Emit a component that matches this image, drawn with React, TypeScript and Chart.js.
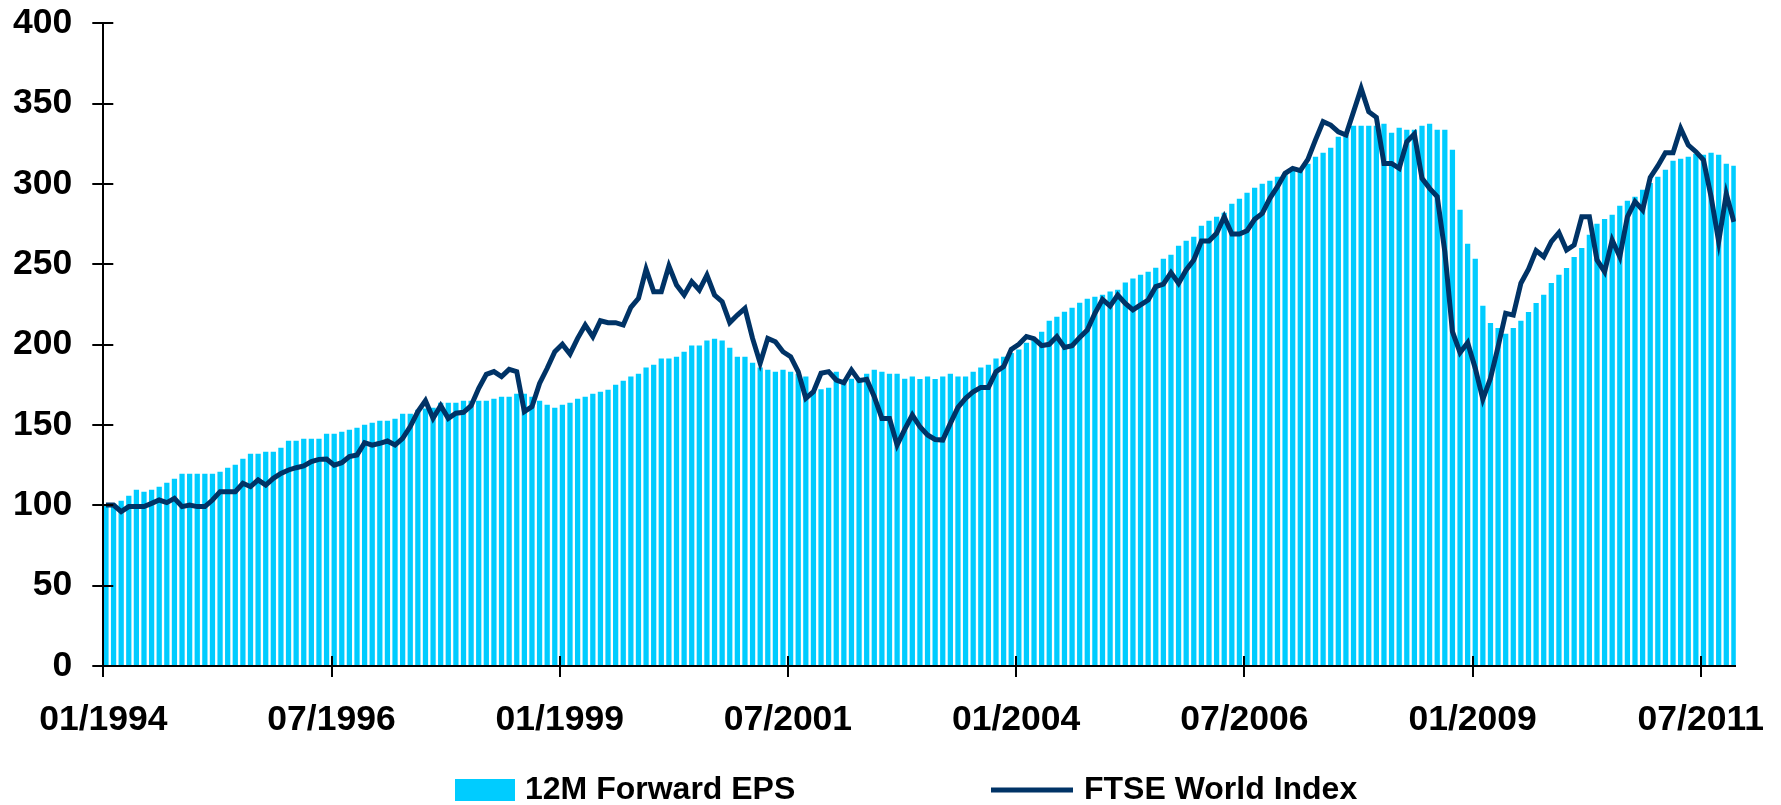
import React, { useEffect, useRef } from "react";
import { Chart, registerables } from "chart.js";

Chart.register(...registerables);

// Month index 0 = 01/1994
const tickMonths = [0, 30, 60, 90, 120, 150, 180, 210];
const tickLabels = ["01/1994", "07/1996", "01/1999", "07/2001", "01/2004", "07/2006", "01/2009", "07/2011"];

const eps = [
  100, 101, 102.7, 105.8, 109.5, 108.3, 109.5, 111.4, 113.9, 116.4,
  119.5, 119.5, 119.5, 119.5, 119.5, 120.7, 123.2, 125.1, 128.8, 131.9,
  131.9, 133.2, 133.2, 135.7, 140, 140, 141.3, 141.3, 141.3, 144.4,
  144.4, 145.6, 146.9, 148.1, 150, 151.2, 152.5, 152.5, 153.7, 156.8,
  156.8, 159.3, 160, 160.6, 163.7, 163.7, 163.7, 164.9, 164.9, 164.9,
  164.9, 166.2, 167.4, 167.4, 169.3, 169.3, 167.4, 164.9, 162.4, 160.6,
  162.4, 163.7, 166.2, 167.4, 169.3, 170.5, 171.8, 174.9, 177.4, 179.9,
  181.7, 185.5, 187.3, 191.1, 191.1, 192.3, 195.4, 199.2, 199.2, 202.3,
  203.5, 202.3, 197.9, 192.3, 192.3, 188.6, 185.5, 184.2, 183, 184.2,
  183, 181.7, 179.9, 171, 172, 173, 183, 178, 178.6, 179.2,
  181.7, 184.2, 183, 181.7, 181.7, 178.6, 179.9, 178.4, 179.9, 178.4,
  179.9, 181.7, 179.9, 179.9, 183, 185.5, 187.3, 191.1, 192.3, 194.6,
  196.7, 201, 202.9, 207.9, 214.7, 217.2, 220.3, 222.8, 225.9, 228.4,
  229.6, 230.9, 232.8, 234, 238.4, 240.9, 243.3, 245.2, 247.7, 253.3,
  255.8, 261.4, 264.5, 267, 273.8, 276.9, 279.4, 281.9, 287.5, 290.6,
  294.4, 297.5, 300, 301.8, 304.3, 306.8, 308.7, 309.3, 312.4, 316.8,
  319.3, 322.4, 329.2, 330.5, 336.1, 336.1, 336.1, 336.1, 337.3, 331.7,
  334.8, 333.6, 333.6, 336.1, 337.3, 333.6, 333.6, 321.1, 283.8, 262.6,
  253.3, 224, 213.3, 210.1, 206.6, 210.1, 214.7, 220.1, 225.7, 230.9,
  238.2, 243.3, 247.5, 254.3, 259.9, 268.2, 275.1, 278, 280.7, 286.3,
  289.4, 291.9, 296.2, 300.4, 304.3, 308.7, 314.3, 315.5, 316.8, 318.6,
  318, 319.3, 318, 312.4, 311.2,
];

const ftse = [
  100.2, 100.2, 96.1, 99.2, 99.2, 99.2, 101.2, 103.3, 101.7, 104.3,
  99.2, 100.2, 99.2, 99.2, 103.3, 108.5, 108.5, 108.5, 113.7, 111.6,
  115.8, 112.6, 116.8, 119.9, 122, 123.4, 124.5, 127.2, 128.6, 128.8,
  125, 126.5, 130.3, 131.3, 139, 137.5, 138.6, 140, 137.5, 141.7,
  149, 158.3, 165.1, 154.1, 162, 154.1, 157.3, 157.9, 162, 172.8,
  181.5, 183.2, 180.1, 184.6, 183.2, 158.3, 161.4, 175.9, 185.3, 195.6,
  200.2, 194.2, 203.9, 212.2, 205, 214.9, 213.7, 213.7, 212.2, 223.2,
  228.8, 246.9, 233, 233, 249, 237.1, 230.9, 239.2, 234, 243.3,
  230.9, 226.7, 213.7, 218.4, 222.6, 203.9, 188.4, 203.9, 201.8, 195.6,
  192.5, 183.2, 166.6, 170.7, 182.2, 183.2, 178, 176.3, 184.2, 177.6,
  178.4, 167.6, 154.1, 154.1, 137.5, 147.3, 156.2, 148.9, 143.8, 141,
  140.6, 151, 161, 166.6, 170.7, 173.4, 173.4, 183.2, 186.3, 197.1,
  200.2, 205, 203.7, 199.4, 200.2, 205, 198.3, 199.4, 204.5, 209.1,
  219.5, 228.2, 224, 230.9, 225.7, 221.6, 224.7, 227.8, 236.1, 237.7,
  244.8, 238.2, 246.5, 252.7, 264.5, 264.5, 269.3, 279.6, 268.9, 268.9,
  270.9, 278, 281.7, 291.1, 298.3, 306.6, 309.7, 308.3, 315.3, 327.4,
  338.8, 336.7, 332.5, 330.5, 345, 359.5, 345, 341.5, 312.8, 312.8,
  309.7, 326.3, 331.1, 303.5, 297.3, 292.1, 257.9, 208.1, 195, 201.2,
  185.3, 166, 179, 198.7, 219.5, 218.4, 238.2, 246.9, 258.5, 254.7,
  264.1, 269.7, 258.9, 262, 279.6, 279.6, 252.7, 245.4, 265.1, 254.7,
  279.6, 289, 283.8, 304.1, 311.2, 319.5, 319.5, 334.6, 324.2, 320.1,
  314.9, 292.1, 264.1, 293.8, 276.5,
];

const seriesNames = ["12M Forward EPS", "FTSE World Index"];

const EPS_COLOR = "#00CCFF";
const FTSE_COLOR = "#003366";
const FONT = "'Liberation Sans', Arial, sans-serif";
const POINT_OFFSET = 0.35; // observations sit a little after each month tick
const X_MAX = 214.6;

const decorPlugin = {
  id: "decor",
  afterDraw(chart: any) {
    const { ctx, chartArea, scales } = chart;
    const xs = scales.x;
    const ys = scales.y;
    ctx.save();
    ctx.strokeStyle = "#000";
    ctx.lineWidth = 2;
    ctx.beginPath();
    ys.ticks.forEach((t: any) => {
      const py = Math.round(ys.getPixelForValue(t.value));
      ctx.moveTo(chartArea.left - 11, py);
      ctx.lineTo(chartArea.left + 10, py);
    });
    xs.ticks.forEach((t: any) => {
      const px = Math.round(xs.getPixelForValue(t.value));
      ctx.moveTo(px, chartArea.bottom - 10);
      ctx.lineTo(px, chartArea.bottom + 11);
    });
    ctx.stroke();

    // legend
    const ly = 790;
    ctx.font = `bold 32px ${FONT}`;
    ctx.textBaseline = "middle";
    ctx.textAlign = "left";
    ctx.fillStyle = EPS_COLOR;
    ctx.fillRect(455, 779, 60, 22);
    ctx.fillStyle = "#000";
    ctx.fillText(seriesNames[0], 525, ly);
    ctx.strokeStyle = FTSE_COLOR;
    ctx.lineWidth = 5;
    ctx.beginPath();
    ctx.moveTo(991, ly);
    ctx.lineTo(1073, ly);
    ctx.stroke();
    ctx.fillStyle = "#000";
    ctx.fillText(seriesNames[1], 1084, ly);
    ctx.restore();
  },
};

export default function App() {
  const ref = useRef<HTMLCanvasElement | null>(null);
  useEffect(() => {
    if (!ref.current) return;
    const chart = new Chart(ref.current, {
      type: "bar",
      data: {
        datasets: [
          {
            type: "line",
            label: seriesNames[1],
            data: ftse.map((v, i) => ({ x: i + POINT_OFFSET, y: v })),
            borderColor: FTSE_COLOR,
            borderWidth: 5,
            pointRadius: 0,
            tension: 0,
            fill: false,
            order: 0,
          } as any,
          {
            type: "bar",
            label: seriesNames[0],
            data: eps.map((v, i) => ({ x: i + POINT_OFFSET, y: v })),
            backgroundColor: EPS_COLOR,
            borderWidth: 0,
            barThickness: 4.6,
            order: 1,
          } as any,
        ],
      },
      options: {
        responsive: false,
        animation: false,
        events: [],
        layout: { padding: { top: 23.3, right: 45.2, bottom: 39, left: 0 } },
        plugins: { legend: { display: false }, tooltip: { enabled: false } },
        scales: {
          x: {
            type: "linear",
            min: 0,
            max: X_MAX,
            offset: false,
            grid: { display: false, drawTicks: false },
            border: { display: true, color: "#000", width: 2, z: 1 },
            afterBuildTicks: (s: any) => {
              s.ticks = tickMonths.map((v) => ({ value: v }));
            },
            afterFit: (s: any) => {
              s.height = 100;
              s.paddingLeft = 0;
              s.paddingRight = 0;
            },
            ticks: {
              autoSkip: false,
              maxRotation: 0,
              padding: 33,
              color: "#000",
              font: { family: FONT, size: 35.5, weight: "bold" },
              callback: (v: any) => {
                const k = tickMonths.indexOf(Number(v));
                return k >= 0 ? tickLabels[k] : "";
              },
            },
          },
          y: {
            min: 0,
            max: 400,
            grid: { display: false, drawTicks: false },
            border: { display: true, color: "#000", width: 2, z: 1 },
            afterFit: (s: any) => {
              s.width = 103.3;
              s.paddingTop = 0;
              s.paddingBottom = 0;
            },
            ticks: {
              stepSize: 50,
              padding: 31,
              color: "#000",
              font: { family: FONT, size: 35.5, weight: "bold" },
            },
          },
        },
      },
      plugins: [decorPlugin],
    });
    return () => chart.destroy();
  }, []);

  return (
    <div style={{ position: "absolute", left: 0, top: 0, width: 1781, height: 805 }}>
      <canvas ref={ref} width={1781} height={805} style={{ width: 1781, height: 805 }} />
    </div>
  );
}
